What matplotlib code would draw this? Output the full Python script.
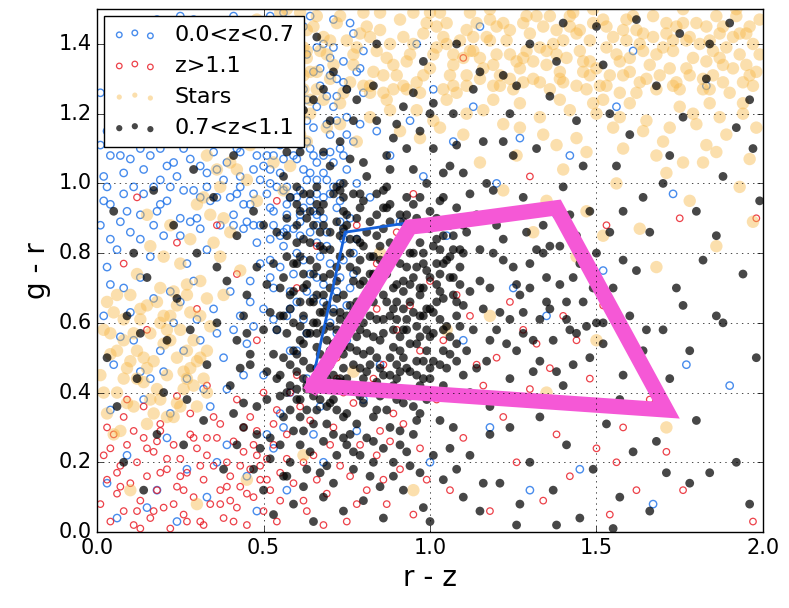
import numpy as np
import matplotlib
matplotlib.use('Agg')
import matplotlib.pyplot as plt

# points, in hundredths of a magnitude: (r-z, g-r)
stars = [
    (42,141),(45,133),(48,147),(51,128),(53,138),(56,145),(58,131),(61,149),(63,136),(66,127),(68,142),(71,134),
    (73,148),(76,129),(78,139),(81,145),(83,132),(86,126),(88,140),(91,147),(93,135),(96,129),(98,143),(101,137),
    (103,149),(106,131),(108,126),(111,144),(113,138),(116,133),(118,147),(121,128),(123,141),(126,135),(128,146),
    (131,130),(133,139),(136,127),(138,144),(141,136),(143,149),(146,132),(148,141),(151,128),(153,145),(156,137),
    (158,131),(161,148),(163,140),(166,134),(168,127),(171,143),(173,138),(176,146),(178,131),(181,140),(183,135),
    (186,148),(188,129),(191,142),(193,137),(196,145),(198,132),
    (44,146),(47,137),(50,143),(52,131),(55,149),(57,139),(60,134),(62,127),(65,145),(67,138),(70,130),(72,146),
    (75,141),(77,134),(80,149),(82,128),(85,144),(87,136),(90,131),(92,142),(95,149),(97,126),(100,133),(102,145),
    (105,140),(107,128),(110,136),(112,149),(115,130),(117,142),(120,137),(122,146),(125,127),(127,133),(130,143),
    (132,148),(135,134),(137,140),(140,129),(142,145),(145,138),(147,127),(150,133),(152,147),(155,142),(157,126),
    (160,136),(162,144),(165,130),(167,148),(170,139),(172,133),(175,127),(177,141),(180,146),(182,130),(185,138),
    (187,143),(190,126),(192,148),(195,134),(197,140),(199,147),
    (46,139),(49,130),(54,135),(59,142),(64,132),(69,137),(74,126),(79,143),(84,138),(89,127),(94,137),(99,146),
    (104,127),(109,141),(114,146),(119,134),(124,130),(129,138),(134,145),(139,132),(144,128),(149,146),(154,131),
    (159,141),(164,138),(169,131),(174,145),(179,136),(184,127),(189,139),(194,129),(199,137),(57,150),(85,149),
    (118,150),(149,150),(176,150),(192,150),(66,148),(111,128),
    (102,139),(107,134),(113,142),(119,128),(124,144),(128,136),(133,129),(138,137),(144,143),(148,135),(153,139),
    (158,144),(163,129),(168,137),(173,128),(178,142),(183,145),(188,134),(193,143),(197,128),(185,131),(160,132),
    (140,141),(121,131),(105,146),
    (86,131),(142,148),(115,136),(173,141),(63,144),(128,129),(191,133),(104,142),(157,135),(77,137),(136,148),
    (182,127),(95,140),(148,131),(120,145),(167,142),(58,136),(111,131),(188,145),(80,128),(131,135),(162,126),
    (100,149),(145,144),(177,133),(70,141),(124,137),(195,143),(89,134),(153,128),(107,137),(171,146),(66,132),
    (139,130),(184,141),(118,141),(93,127),(159,147),(48,141),(129,148),(196,131),(82,142),(146,135),(112,138),
    (174,129),(62,139),(135,138),(187,136),(98,131),(164,143),
    (48,122),(52,118),(57,124),(61,114),(64,120),(69,116),(73,123),(78,112),(82,119),(87,124),(91,115),(96,121),
    (101,118),(105,124),(110,114),(116,121),(122,117),(127,123),(133,119),(139,124),(144,113),(150,120),(155,116),
    (160,123),(165,118),(170,112),(175,122),(180,117),(184,123),(189,114),(194,120),(198,116),(158,110),(168,108),
    (147,109),(186,109),(176,106),(138,111),(196,107),(152,124),
    (73,117),(88,121),(103,116),(119,124),(134,114),(149,123),(164,115),(179,120),(194,123),(82,126),(97,113),
    (111,120),(127,116),(142,121),(157,119),(172,116),(187,119),(68,124),(92,128),(183,111),
    (122,98),(131,86),(140,104),(147,92),(156,100),(163,87),(171,103),(178,95),(186,82),(193,99),(144,79),(168,76),
    (115,106),(135,95),(182,106),(197,89),(152,85),(126,108),
    (30,118),(33,108),(35,126),(37,99),(39,114),(41,121),(42,104),(44,129),(46,111),(48,95),(49,117),(51,124),
    (53,106),(55,135),(57,112),(59,127),(61,119),(63,138),(36,132),(40,137),(45,101),(50,131),(54,120),(58,105),
    (62,131),(32,96),(38,90),(43,116),(47,125),(52,136),(56,98),(60,114),(64,124),(34,113),(40,106),
    (41,112),(47,131),(54,113),(60,122),(36,104),(52,129),(44,123),(58,117),(39,125),(63,112),
    (1,45),(2,58),(3,34),(4,51),(5,63),(6,40),(7,29),(8,55),(9,47),(10,68),(11,36),(12,52),(13,61),(14,43),(15,31),
    (16,57),(17,49),(18,66),(19,38),(20,54),(21,45),(22,62),(23,33),(24,50),(25,58),(26,41),(27,68),(28,47),(29,55),
    (30,36),(31,62),(32,44),(33,52),(34,59),(3,66),(6,52),(9,37),(12,44),(15,65),(18,41),(21,58),(24,37),(27,52),
    (30,49),(5,28),(11,57),(17,34),(23,69),(29,42),(14,50),(20,62),(26,46),(8,61),(2,40),(33,67),
    (8,44),(16,38),(22,55),(27,44),(13,64),(4,57),(31,50),(19,60),(25,36),(10,49),(33,40),(6,68),(28,63),(15,47),
    (21,33),
    (12,74),(16,82),(19,70),(22,88),(25,77),(28,84),(31,72),(34,91),(37,79),(40,86),(43,75),(15,91),(24,65),(30,94),
    (38,68),(20,79),(27,71),(35,83),
    (77,46),(118,62),(62,22),(95,12),(171,30),(150,55),(85,80),(105,58),(45,15),(30,8),(10,12),(135,40),
]

low_z = [
    (36,104),(38,118),(40,96),(42,110),(44,125),(45,89),(47,115),(49,101),(50,122),(52,93),(53,108),(55,127),
    (56,98),(58,113),(59,87),(61,120),(62,104),(64,95),(65,116),(67,128),(68,90),(70,109),(71,122),(73,100),
    (74,86),(39,127),(41,88),(43,102),(46,120),(48,108),(51,129),(54,115),(57,91),(60,107),(63,124),(66,101),
    (69,117),(72,93),(37,112),(44,94),(50,112),(55,103),(60,96),(65,108),(70,97),(58,126),(48,128),(53,88),
    (63,112),(68,103),(75,114),(42,118),(47,97),(56,119),(61,89),(66,122),(71,106),(40,122),(52,100),(64,86),
    (47,104),(62,93),(39,121),(55,111),(71,99),(44,87),(58,129),(66,106),(51,97),(35,116),(69,125),(43,109),
    (60,118),(53,92),(75,104),(38,101),(64,110),(49,125),(57,99),(41,130),(72,118),(46,94),(63,101),(54,123),
    (68,96),(37,88),(59,108),(50,117),(74,129),(45,113),
    (42,97),(48,119),(56,107),(65,92),(73,110),(39,106),(53,127),(61,98),(70,114),(47,88),(59,121),(66,97),
    (44,116),(57,94),(75,119),(50,105),(62,127),(68,108),(36,96),(54,99),
    (41,91),(63,118),(52,104),(70,131),(45,127),(58,96),(77,112),(49,113),(66,91),(55,131),(73,95),(43,99),
    (61,111),(69,101),(47,123),(57,87),(75,127),(51,108),(64,103),(40,115),
    (79,117),(76,90),(78,100),(74,108),(72,125),(67,133),(60,132),(54,136),(48,133),(43,141),(80,126),(79,133),
    (71,139),(63,137),
    (46,72),(48,83),(50,64),(52,78),(54,58),(56,86),(58,69),(60,80),(62,61),(64,74),(66,88),(68,66),(70,77),
    (72,57),(74,84),(76,70),(78,62),(49,88),(53,70),(57,62),(61,85),(65,67),(69,82),(73,73),(77,80),(47,59),
    (55,76),(63,57),(71,64),(59,74),
    (52,73),(67,79),(58,64),(73,89),(49,77),(63,69),(77,74),(55,85),(70,60),(61,91),(46,66),(66,83),(75,65),
    (53,61),(68,71),
    (56,82),(62,78),(69,86),(74,78),(78,84),(52,84),(60,66),(66,73),(72,69),(76,58),
    (1,88),(2,102),(3,115),(4,94),(5,125),(6,81),(7,108),(8,97),(9,119),(10,86),(11,112),(12,128),(13,91),
    (14,104),(15,117),(16,79),(17,99),(18,123),(19,110),(20,85),(21,95),(22,114),(23,126),(24,102),(25,90),
    (26,118),(27,77),(28,107),(29,98),(30,128),(31,87),(32,112),(33,103),(34,121),(3,76),(8,130),(13,84),
    (18,92),(23,106),(28,89),
    (4,108),(9,92),(14,124),(19,101),(24,115),(29,120),(34,95),(6,118),(11,99),(16,108),(21,121),(26,98),
    (31,105),(1,126),(33,81),
    (2,95),(10,107),(17,88),(24,121),(31,96),(6,113),(14,97),(21,105),(28,126),(35,109),(4,84),(12,117),(19,94),
    (27,112),(33,99),(8,103),(16,129),(25,85),(32,118),(1,111),
    (17,115),(9,125),(3,99),(26,110),(13,110),(30,90),(22,99),(7,89),
    (22,133),(26,141),(29,147),(32,136),(35,144),(38,131),(41,148),(44,138),(47,145),(50,134),(53,142),(56,149),
    (59,137),(62,145),(65,132),(68,140),(71,147),(74,135),(77,143),(80,138),(25,148),(34,127),(45,130),(55,140),
    (64,148),(72,130),(15,138),(10,143),(18,147),(6,136),
    (28,143),(37,137),(49,146),(58,134),(66,139),(43,134),(52,148),(61,142),(70,136),(76,146),(31,131),(40,142),
    (2,62),(5,48),(8,70),(11,55),(14,38),(17,67),(20,46),(23,60),(26,52),(29,72),(32,41),(35,64),(38,50),(41,58),
    (44,45),(4,35),(13,73),(22,34),(31,55),(40,69),(7,56),(16,44),(25,66),(34,36),(43,62),
    (10,63),(19,52),(27,44),(36,57),(4,71),(13,46),(22,69),(30,61),(39,41),(45,54),
    (3,14),(9,22),(15,7),(21,27),(27,18),(33,10),(39,25),(45,16),(51,28),(57,12),(6,4),(18,12),(36,20),(48,6),
    (24,3),
    (50,45),(55,34),(60,52),(65,28),(70,42),(75,55),(80,38),(58,40),(68,20),(85,48),(53,24),(78,29),
    (58,52),(63,44),(72,51),(56,30),(67,36),
    (82,96),(88,108),(94,118),(101,127),(107,112),(113,122),(91,89),(98,102),(120,100),(127,113),(138,91),
    (142,108),(156,122),(173,97),(183,128),(161,138),(190,42),(167,8),(177,48),(145,18),(125,70),(110,55),
    (118,30),(135,62),(152,75),(163,50),(130,12),(100,20),(105,85),(84,115),(118,90),(78,132),(96,140),(115,145),
]

high_z = [
    (1,8),(2,22),(3,15),(4,3),(5,28),(6,11),(7,19),(8,6),(9,25),(10,14),(11,2),(12,20),(13,9),(14,27),(15,16),
    (16,4),(17,23),(18,12),(19,29),(20,7),(21,18),(22,1),(23,25),(24,13),(25,21),(26,5),(27,17),(28,28),(29,10),
    (30,24),(31,3),(32,15),(33,22),(34,8),(35,19),(36,27),(37,12),(38,4),(39,20),(40,16),(41,26),(42,7),(43,13),
    (44,23),(45,2),(46,18),(47,10),(48,29),(49,15),(50,6),(51,21),(52,12),(53,25),(54,3),(55,17),
    (3,30),(8,33),(14,36),(19,31),(24,39),(28,34),(33,42),(37,31),(42,38),(46,33),(50,40),(54,35),(6,17),(12,6),
    (18,26),(26,12),(32,2),(40,9),(44,30),(48,22),
    (7,13),(15,24),(23,8),(31,19),(39,13),(47,25),(55,9),(11,29),(19,17),(27,3),(35,33),(43,19),(51,15),(4,24),
    (13,1),(21,21),(29,27),(37,8),(45,11),(53,31),(9,38),(17,6),(25,16),(33,27),(41,3),(49,19),(57,21),(64,32),
    (70,25),(78,8),(62,9),(88,26),(72,44),(66,15),(58,40),
    (57,28),(59,14),(61,36),(63,6),(65,22),(67,42),(69,11),(71,30),(73,19),(75,3),(77,37),(79,25),(81,12),
    (83,44),(85,29),(87,8),(89,34),(91,18),(93,40),(95,5),(97,24),(99,15),(60,45),(68,2),(76,16),(84,22),(92,31),
    (62,20),(74,40),(86,15),
    (102,38),(106,12),(110,27),(114,48),(118,6),(122,33),(126,20),(130,41),(134,9),(138,28),(142,16),(146,37),
    (150,24),(154,5),(158,30),(162,12),(104,55),(112,62),(120,50),(128,58),(136,47),(144,55),(152,65),(108,68),
    (116,42),(124,66),(132,54),(140,62),(148,44),(156,20),(171,23),(176,12),(197,3),(166,38),(97,52),(90,58),
    (84,64),(100,72),(86,48),(94,65),
    (5,112),(12,96),(18,124),(24,83),(30,64),(36,88),(42,74),(48,55),(54,95),(60,70),(66,82),(72,50),(78,88),
    (84,77),(90,86),(15,58),(8,77),(95,97),(112,89),(130,102),(153,88),(175,90),(198,90),(110,136),
]

mid_z = [
    (56,62),(58,48),(59,77),(60,88),(61,55),(62,70),(63,42),(64,83),(65,60),(66,94),(67,51),(68,73),(69,65),
    (70,86),(71,45),(72,58),(73,79),(74,68),(75,91),(76,53),(77,63),(78,84),(79,47),(80,72),(81,57),(82,89),
    (83,66),(84,43),(85,78),(86,61),(87,93),(88,50),(89,70),(90,82),(91,56),(92,64),(93,76),(94,46),(95,87),
    (96,59),(97,68),(98,80),(99,52),(100,73),(101,63),(102,90),(103,48),(104,67),(105,78),(106,56),(107,85),
    (108,62),(109,71),(110,45),
    (57,85),(58,68),(60,41),(61,79),(63,57),(64,92),(66,47),(67,82),(69,55),(70,70),(72,89),(73,61),(75,44),
    (76,76),(78,56),(79,93),(81,68),(82,48),(84,85),(85,55),(87,74),(88,62),(90,44),(91,91),(93,58),(94,80),
    (96,49),(97,88),(99,64),(100,56),(102,77),(103,69),(105,47),(106,88),(108,54),(109,81),
    (59,60),(62,49),(65,74),(68,88),(71,63),(74,51),(77,72),(80,60),(83,79),(86,45),(89,58),(92,72),(95,63),
    (98,44),(101,82),(104,58),(107,73),(110,65),(56,73),(60,94),(64,66),(68,58),(72,76),(76,65),(80,82),(84,70),
    (88,83),(92,50),(96,76),(100,92),(104,85),(108,93),(62,62),(66,68),(70,52),(74,87),(78,66),(82,74),(86,68),
    (90,66),(94,54),(98,70),
    (63,71),(88,45),(71,97),(54,58),(97,83),(79,39),(66,53),(102,66),(84,91),(58,35),(75,62),(91,77),(69,44),
    (106,51),(81,86),(61,66),(94,39),(73,55),(87,99),(57,79),(99,58),(77,48),(65,88),(92,69),(83,33),(70,74),
    (104,42),(60,51),(86,57),(74,96),(95,73),(67,38),(80,65),(100,87),(62,84),(89,53),(76,42),(109,76),(55,45),
    (82,79),(72,67),(93,91),(64,57),(85,40),(98,62),(68,81),(78,52),(103,95),(59,69),(90,48),
    (52,63),(87,66),(75,34),(96,54),(61,92),(81,46),(70,59),(107,68),(66,76),(92,37),(78,90),(56,50),(99,75),
    (84,61),(63,41),(73,85),(94,66),(69,49),(88,78),(58,96),(101,49),(79,71),(65,31),(86,87),(71,54),(97,42),
    (60,77),(83,56),(76,80),(105,59),(54,86),(90,71),(68,63),(80,37),(95,94),(62,54),(77,97),(89,42),(72,72),
    (102,84),(57,57),(85,82),(66,44),(93,61),(74,47),(110,88),(63,90),(82,52),(70,81),(98,49),
    (51,71),(64,97),(87,35),(76,58),(95,80),(60,46),(83,74),(71,38),(100,64),(67,86),(91,52),(79,83),(55,62),
    (86,93),(73,43),(97,70),(62,74),(81,40),(68,94),(104,77),(58,42),(89,64),(75,88),(93,47),(65,66),(84,50),
    (72,99),(101,57),(57,90),(78,61),(96,90),(69,36),(88,89),(61,59),(80,95),(74,53),(107,81),(53,77),(92,58),
    (66,60),
    (67,92),(73,63),(79,78),(85,47),(91,84),(97,56),(103,81),(109,59),(64,78),(70,48),(76,84),(82,62),(88,94),
    (94,71),(100,44),(106,73),(58,64),(62,44),(68,68),(74,92),(80,51),(86,75),(92,89),(98,77),(104,52),(110,80),
    (60,83),(66,57),(72,43),(78,75),(84,97),(90,61),(96,45),(102,71),(108,49),(55,70),(61,38),(67,63),(73,98),
    (79,58),(85,72),(91,46),(97,96),(103,61),(109,89),
    (111,86),(113,58),(115,72),(117,49),(119,80),(121,63),(123,54),(125,76),(127,68),(129,86),(131,46),(133,61),
    (135,73),(137,55),(139,82),(141,66),(143,48),(145,77),(147,59),(149,70),(112,40),(116,64),(120,88),(124,44),
    (128,57),(132,81),(136,64),(140,42),(144,85),(148,50),(114,91),(118,70),(122,78),(126,52),(130,70),(134,88),
    (138,46),(142,58),(146,66),(150,80),(152,54),(155,70),(158,45),(160,62),(154,86),(162,75),(157,38),(164,52),
    (118,36),(132,38),
    (97,62),(103,74),(111,52),(115,81),(120,58),(126,71),(131,55),(136,82),(141,61),(100,47),(108,66),(114,47),
    (122,84),(128,63),(133,49),(139,71),(144,57),(106,79),(118,55),(124,61),(130,77),(112,69),(135,66),(143,73),
    (150,60),
    (40,42),(42,55),(44,30),(46,48),(48,36),(50,58),(52,27),(54,44),(56,33),(58,20),(60,38),(62,29),(64,47),
    (66,35),(68,26),(70,37),(72,22),(74,33),(41,34),(45,57),(49,24),(53,51),(57,40),(61,25),(65,39),(69,31),
    (73,44),(43,47),(47,18),(51,38),(55,25),(59,52),(63,35),(67,17),(71,28),(75,25),
    (44,37),(52,21),(61,33),(69,19),(78,31),(86,24),(95,36),(48,28),(57,16),(66,42),(74,27),(83,20),(91,29),
    (99,38),(46,51),(55,39),(64,23),(72,35),(81,27),(89,16),(97,34),(51,46),(59,29),(68,47),(77,23),(85,39),
    (93,23),(42,25),(63,18),(80,44),
    (50,12),(53,5),(56,16),(59,8),(62,13),(65,3),(68,10),(71,14),(74,6),(77,18),(80,9),(83,26),(86,4),(89,20),
    (92,12),(95,28),(98,7),(101,22),(104,15),(107,30),(110,10),(76,28),(82,16),(88,30),(94,19),(100,3),(106,24),
    (79,22),(85,13),(91,25),(97,17),(103,32),(108,18),(84,35),(90,38),(96,32),
    (112,22),(115,6),(118,28),(121,14),(124,30),(127,8),(130,20),(133,33),(137,12),(141,25),(145,4),(149,18),
    (153,31),(157,10),(161,23),(166,6),(171,17),(178,14),(184,17),(196,8),(155,1),(138,2),(116,14),(126,2),
    (56,102),(59,115),(62,97),(65,124),(68,109),(71,132),(74,100),(77,118),(80,106),(83,128),(86,98),(89,113),
    (92,122),(95,104),(98,135),(101,110),(104,96),(107,120),(110,103),(113,127),(116,112),(119,98),(122,131),
    (125,108),(58,138),(66,142),(75,127),(84,140),(93,96),(100,120),(108,140),(117,100),(124,120),(61,109),
    (70,118),(79,97),(88,104),(97,115),(106,105),(115,132),
    (57,109),(66,99),(73,112),(81,102),(90,117),(99,100),(108,111),(62,121),(70,105),(78,124),(87,108),(95,126),
    (104,103),(60,99),(68,127),(84,118),(93,110),(101,123),(112,97),(76,107),
    (128,96),(132,110),(136,125),(140,99),(144,118),(148,92),(152,134),(156,105),(160,114),(164,96),(168,128),
    (172,108),(176,119),(180,92),(184,140),(188,102),(192,116),(196,124),(199,95),(130,140),(140,146),(150,145),
    (162,147),(175,143),(190,146),(134,80),(142,91),(158,78),(166,86),(174,70),(182,78),(188,60),(194,74),
    (170,58),(178,52),(126,128),(146,105),(154,120),(183,130),(197,110),(138,135),(158,92),(170,100),(186,85),
    (122,112),
    (3,50),(6,36),(9,62),(12,44),(15,73),(18,28),(21,55),(24,67),(27,38),(30,80),(33,48),(36,60),(39,72),
    (42,85),(45,68),(48,76),(5,92),(11,80),(17,98),(23,88),(29,104),(35,96),(41,108),(47,92),(8,20),(14,12),
    (20,40),(26,25),(32,32),(38,18),(44,62),(50,88),(28,58),(13,57),(36,76),(22,112),
    (160,36),(165,58),(172,44),(180,32),(186,62),(192,20),(198,50),(168,26),(176,65),(152,60),
]

# selection boxes
box_x = [0.65, 0.94, 0.99, 1.38, 1.71, 0.65]
box_y = [0.42, 0.875, 0.88, 0.93, 0.35, 0.42]
old_box_x = [0.655, 0.745, 0.92]
old_box_y = [0.47, 0.86, 0.885]

stars = np.array(stars) / 100.
low_z = np.array(low_z) / 100.
high_z = np.array(high_z) / 100.
mid_z = np.array(mid_z) / 100.

plt.style.use('classic')
fig = plt.figure(figsize=(7.89, 6.08), dpi=100)
fig.patch.set_facecolor('white')
ax = fig.add_axes([0.123, 0.125, 0.844, 0.86])

ax.scatter(low_z[:, 0], low_z[:, 1], s=28, facecolors='none', edgecolors='#1a6fe8',
           linewidths=1.0, alpha=0.8, label='0.0<z<0.7')
ax.scatter(high_z[:, 0], high_z[:, 1], s=22, facecolors='none', edgecolors='#e8121c',
           linewidths=0.9, alpha=0.8, label='z>1.1')
ax.scatter(stars[:, 0], stars[:, 1], s=80, marker='o', color='#f8b94a', edgecolors='none',
           alpha=0.45, label='Stars')
ax.scatter(mid_z[:, 0], mid_z[:, 1], s=40, color='black', edgecolors='none',
           alpha=0.72, label='0.7<z<1.1')

ax.plot(old_box_x, old_box_y, color='#1560d8', lw=2)
ax.plot(box_x, box_y, color='#f558d6', lw=11, solid_joinstyle='miter')

ax.set_xlim(0, 2.0)
ax.set_ylim(0, 1.5)
ax.set_xticks([0.0, 0.5, 1.0, 1.5, 2.0])
ax.set_yticks([0.0, 0.2, 0.4, 0.6, 0.8, 1.0, 1.2, 1.4])
ax.tick_params(labelsize=15)
ax.grid(True)
ax.set_xlabel('r - z', fontsize=20)
ax.set_ylabel('g - r', fontsize=20)

leg = ax.legend(loc='upper left', scatterpoints=3, fontsize=16, borderaxespad=0.3)
for h, sz in zip(leg.legend_handles, [16, 16, 14, 20]):
    h.set_sizes([sz])

fig.savefig('out.png', dpi=100, facecolor='white')
